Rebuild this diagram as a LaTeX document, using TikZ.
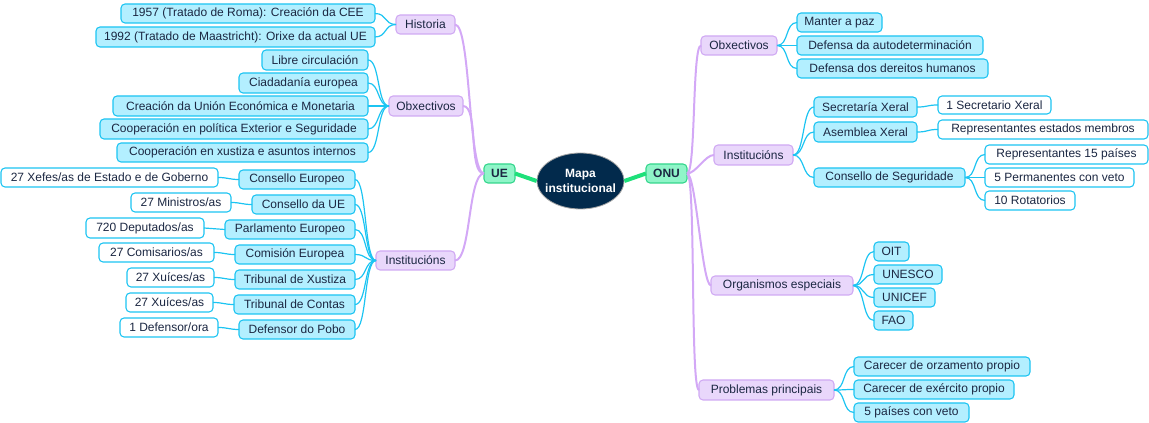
\documentclass[tikz,border=0pt]{standalone}
\usepackage{fontspec}
\setmainfont{Liberation Sans}
\usetikzlibrary{shapes.geometric}
\definecolor{cfill}{HTML}{B3EFFF}
\definecolor{cbord}{HTML}{1CC4F2}
\definecolor{lfill}{HTML}{E9D7FB}
\definecolor{lbord}{HTML}{D0A9F3}
\definecolor{lline}{HTML}{D3A8F6}
\definecolor{gline}{HTML}{1EE07A}
\definecolor{gfill}{HTML}{8FF5C8}
\definecolor{gbord}{HTML}{33D68C}
\definecolor{navy}{HTML}{022A4C}
\definecolor{txt}{HTML}{1B2742}
\newcommand\bx[7]{\node[#1, minimum width={0.75pt*(#5-#3)}, minimum height={0.75pt*(#6-#4)}] (#2) at ({(#3+#5)/2},{(#4+#6)/2}) {#7};}
\tikzset{
  base/.style={rectangle, rounded corners=3pt, line width=0.8pt, inner sep=0pt, outer sep=0pt, font=\fontsize{9pt}{10pt}\selectfont, text=txt},
  cyanbox/.style={base, draw=cbord, fill=cfill},
  whitebox/.style={base, draw=cbord, fill=white},
  lavbox/.style={base, draw=lbord, fill=lfill},
  greenbox/.style={base, draw=gbord, fill=gfill, font=\fontsize{9pt}{10pt}\selectfont\bfseries},
  clink/.style={draw=cbord, line width=0.9pt},
  llink/.style={draw=lline, line width=1.5pt},
  glink/.style={draw=gline, line width=3pt},
}
\begin{document}
\begin{tikzpicture}[x=0.75pt,y=-0.75pt]
\useasboundingbox (0,0) rectangle (1149,423);
% centre
\node[ellipse, draw=gray!70, line width=0.6pt, fill=navy, minimum width=65.25pt, minimum height=42pt, inner sep=0pt] (map) at (580.5,181) {};
\node[text=white, font=\fontsize{9pt}{11pt}\selectfont\bfseries, align=center, inner sep=0pt] (maplabel) at (map.center) {Mapa\\institucional};
\bx{greenbox}{ue}{484}{164}{515}{183}{UE}
\bx{greenbox}{onu}{646}{164}{687}{183}{ONU}
% UE level 1
\bx{lavbox}{ueHist}{396}{15}{455}{34}{Historia}
\bx{lavbox}{ueObx}{389}{96}{463}{116}{Obxectivos}
\bx{lavbox}{ueInst}{376}{251}{455}{270}{Institucións}
% Historia
\bx{cyanbox}{h1}{121}{4}{375}{23}{1957 (Tratado de Roma): Creación da CEE}
\bx{cyanbox}{h2}{96}{27}{375}{47}{1992 (Tratado de Maastricht): Orixe da actual UE}
% Obxectivos UE
\bx{cyanbox}{o1}{262}{50}{368}{70}{Libre circulación}
\bx{cyanbox}{o2}{239}{73}{368}{93}{Ciadadanía europea}
\bx{cyanbox}{o3}{113}{96}{368}{116}{Creación da Unión Económica e Monetaria}
\bx{cyanbox}{o4}{100}{119}{368}{139}{Cooperación en política Exterior e Seguridade}
\bx{cyanbox}{o5}{117}{143}{368}{162}{Cooperación en xustiza e asuntos internos}
% Institucions UE
\bx{cyanbox}{i1}{239}{170}{355}{189}{Consello Europeo}
\bx{cyanbox}{i2}{252}{195}{355}{214}{Consello da UE}
\bx{cyanbox}{i3}{225}{220}{355}{239}{Parlamento Europeo}
\bx{cyanbox}{i4}{235}{245}{355}{264}{Comisión Europea}
\bx{cyanbox}{i5}{235}{270}{355}{289}{Tribunal de Xustiza}
\bx{cyanbox}{i6}{234}{295}{355}{314}{Tribunal de Contas}
\bx{cyanbox}{i7}{239}{320}{355}{339}{Defensor do Pobo}
\bx{whitebox}{g1}{1}{168}{218}{187}{27 Xefes/as de Estado e de Goberno}
\bx{whitebox}{g2}{131}{193}{231}{212}{27 Ministros/as}
\bx{whitebox}{g3}{86}{218}{204}{238}{720 Deputados/as}
\bx{whitebox}{g4}{99}{243}{214}{262}{27 Comisarios/as}
\bx{whitebox}{g5}{127}{268}{214}{287}{27 Xuíces/as}
\bx{whitebox}{g6}{126}{293}{213}{312}{27 Xuíces/as}
\bx{whitebox}{g7}{120}{318}{218}{337}{1 Defensor/ora}
% ONU level 1
\bx{lavbox}{rObx}{701}{36}{777}{55}{Obxectivos}
\bx{lavbox}{rInst}{714}{145}{793}{165}{Institucións}
\bx{lavbox}{rOrg}{711}{276}{853}{295}{Organismos especiais}
\bx{lavbox}{rProb}{699}{380}{834}{400}{Problemas principais}
% ONU Obxectivos
\bx{cyanbox}{ro1}{797}{13}{882}{32}{Manter a paz}
\bx{cyanbox}{ro2}{797}{36}{983}{55}{Defensa da autodeterminación}
\bx{cyanbox}{ro3}{797}{59}{988}{78}{Defensa dos dereitos humanos}
% ONU Institucions
\bx{cyanbox}{ri1}{814}{97}{917}{117}{Secretaría Xeral}
\bx{cyanbox}{ri2}{814}{122}{917}{142}{Asemblea Xeral}
\bx{cyanbox}{ri3}{814}{168}{965}{187}{Consello de Seguridade}
\bx{whitebox}{rg1}{938}{96}{1051}{114}{1 Secretario Xeral}
\bx{whitebox}{rg2}{938}{120}{1148}{139}{Representantes estados membros}
\bx{whitebox}{rg3}{985}{145}{1148}{164}{Representantes 15 países}
\bx{whitebox}{rg4}{985}{168}{1134}{187}{5 Permanentes con veto}
\bx{whitebox}{rg5}{985}{191}{1075}{210}{10 Rotatorios}
% Organismos
\bx{cyanbox}{rs1}{874}{242}{909}{261}{OIT}
\bx{cyanbox}{rs2}{874}{265}{942}{284}{UNESCO}
\bx{cyanbox}{rs3}{874}{288}{935}{307}{UNICEF}
\bx{cyanbox}{rs4}{874}{311}{913}{330}{FAO}
% Problemas
\bx{cyanbox}{rp1}{854}{357}{1030}{376}{Carecer de orzamento propio}
\bx{cyanbox}{rp2}{854}{380}{1014}{399}{Carecer de exército propio}
\bx{cyanbox}{rp3}{854}{403}{969}{422}{5 países con veto}
% connectors
\draw[glink] (ue.east) -- (map.west);
\draw[glink] (map.east) -- (onu.west);
\foreach \n in {ueHist,ueObx,ueInst}
  \draw[llink] (ue.west) .. controls +(-16,0) and +(16,0) .. (\n.east);
\foreach \n in {rObx,rInst,rOrg,rProb}
  \draw[llink] (onu.east) .. controls +(9,0) and +(-9,0) .. (\n.west);
\foreach \n in {h1,h2}
  \draw[clink] (ueHist.west) .. controls +(-12,0) and +(12,0) .. (\n.east);
\foreach \n in {o1,o2,o3,o4,o5}
  \draw[clink] (ueObx.west) .. controls +(-12,0) and +(12,0) .. (\n.east);
\foreach \n in {i1,i2,i3,i4,i5,i6,i7}
  \draw[clink] (ueInst.west) .. controls +(-12,0) and +(12,0) .. (\n.east);
\foreach \a/\b in {i1/g1,i2/g2,i3/g3,i4/g4,i5/g5,i6/g6,i7/g7}
  \draw[clink] (\a.west) .. controls +(-10,0) and +(10,0) .. (\b.east);
\foreach \n in {ro1,ro2,ro3}
  \draw[clink] (rObx.east) .. controls +(12,0) and +(-12,0) .. (\n.west);
\foreach \n in {ri1,ri2,ri3}
  \draw[clink] (rInst.east) .. controls +(12,0) and +(-12,0) .. (\n.west);
\draw[clink] (ri1.east) .. controls +(12,0) and +(-12,0) .. (rg1.west);
\draw[clink] (ri2.east) .. controls +(12,0) and +(-12,0) .. (rg2.west);
\foreach \n in {rg3,rg4,rg5}
  \draw[clink] (ri3.east) .. controls +(12,0) and +(-12,0) .. (\n.west);
\foreach \n in {rs1,rs2,rs3,rs4}
  \draw[clink] (rOrg.east) .. controls +(12,0) and +(-12,0) .. (\n.west);
\foreach \n in {rp1,rp2,rp3}
  \draw[clink] (rProb.east) .. controls +(12,0) and +(-12,0) .. (\n.west);
\end{tikzpicture}
\end{document}
